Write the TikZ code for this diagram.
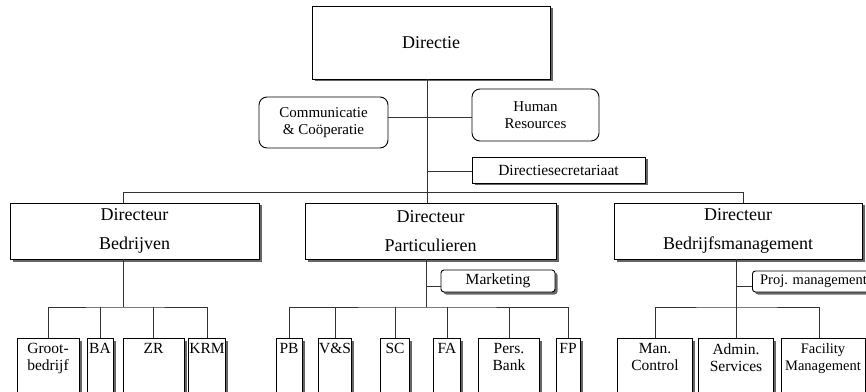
\documentclass[tikz,border=0pt]{standalone}
\usepackage{fontspec}
\setmainfont{Liberation Serif}
\usetikzlibrary{positioning, shadows}

\tikzset{
  orgbox/.style={draw, fill=white, line width=0.9pt, align=center, inner sep=1pt,
                 drop shadow={shadow xshift=2.5pt, shadow yshift=-2.5pt, fill=black!60, opacity=1}},
  staffbox/.style={draw, fill=white, rounded corners=8pt, line width=0.9pt, align=center,
                   font=\fontsize{15}{17}\selectfont},
  dirbox/.style={orgbox, minimum height=56pt, font=\fontsize{18}{29}\selectfont},
  kid/.style={orgbox, anchor=north, inner xsep=1pt, inner ysep=5pt, text depth=60pt,
              font=\fontsize{15.5}{17}\selectfont},
  link/.style={draw=black!80, line width=1pt},
}

\begin{document}
\begin{tikzpicture}[x=1pt, y=1pt]
\useasboundingbox (0,0) rectangle (866,391);
\clip (0,0) rectangle (866,391);

% Top
\node[orgbox, minimum width=238pt, minimum height=73pt, font=\fontsize{18}{20}\selectfont]
      (directie) at (431,348.5) {Directie};
\node[staffbox, minimum width=129pt, minimum height=51pt] (comm) at (323.5,268.5) {Communicatie\\\& Coöperatie};
\node[staffbox, minimum width=127pt, minimum height=52pt] (hr) at (535.5,276) {Human\\Resources};
\node[orgbox, minimum width=173pt, minimum height=26pt, font=\fontsize{15.5}{17}\selectfont]
      (secr) at (558.5,221) {Directiesecretariaat};

% Directeuren
\node[dirbox, minimum width=249pt] (dirbedr) at (134.5,160) {Directeur\\Bedrijven};
\node[dirbox, minimum width=251pt] (dirpart) at (430.5,160) {Directeur\\Particulieren};
\node[dirbox, minimum width=248pt] (dirbm) at (738,160) {Directeur\\Bedrijfsmanagement};

\node[orgbox, rounded corners=3pt, minimum width=114pt, minimum height=22pt,
      font=\fontsize{15.5}{17}\selectfont] (mkt) at (498,110) {Marketing};
\node[orgbox, rounded corners=3pt, minimum width=122pt, minimum height=21pt, anchor=west,
      font=\fontsize{14.5}{16}\selectfont] (projm) at (752,109.5) {Proj. management};

% Afdelingen
\node[kid, minimum width=62pt] (groot) at (48,53) {Groot-\\bedrijf};
\node[kid, minimum width=26pt] (ba) at (100,53) {BA};
\node[kid, minimum width=61pt] (zr) at (153.5,53) {ZR};
\node[kid, minimum width=30pt] (krm) at (207,53) {KRM};

\node[kid, minimum width=26pt] (pb) at (289,53) {PB};
\node[kid, minimum width=29pt] (vs) at (335,53) {V\&S};
\node[kid, minimum width=29pt] (sc) at (395,53) {SC};
\node[kid, minimum width=27pt] (fa) at (447,53) {FA};
\node[kid, minimum width=61pt] (pers) at (509,53) {Pers.\\Bank};
\node[kid, minimum width=24pt] (fp) at (568,53) {FP};

\node[kid, minimum width=75pt] (man) at (655,53) {Man.\\Control};
\node[kid, minimum width=75pt] (admin) at (736,53) {Admin.\\Services};
\node[kid, minimum width=84pt, font=\fontsize{14.5}{17}\selectfont] (fac) at (823,53) {Facility\\Management};

% Lijnen
\coordinate (trunk) at (427,198);
\coordinate (busL) at (123,198);
\coordinate (busR) at (743,198);
\coordinate (hrjoin) at (427,273);
\coordinate (secjoin) at (427,219);
\coordinate (subA) at (123,84);
\coordinate (subB) at (426,84);
\coordinate (subC) at (736,84);
\coordinate (mktjoin) at (426,105);
\coordinate (pmjoin) at (736,105);

\draw[link] (directie.south -| trunk) -- (dirpart.north -| trunk);
\draw[link] (comm.east |- hrjoin) -- (hr.west |- hrjoin);
\draw[link] (secjoin) -- (secjoin -| secr.west);
\draw[link] (busL |- dirbedr.north) |- (busR) -- (busR |- dirbm.north);

\draw[link] (dirbedr.south -| subA) -- (subA);
\draw[link] (dirpart.south -| subB) -- (subB);
\draw[link] (mktjoin) -- (mktjoin -| mkt.west);
\draw[link] (dirbm.south -| subC) -- (subC);
\draw[link] (pmjoin) -- (pmjoin -| projm.west);

\draw[link] (groot.north) |- (subA) -| (krm.north);
\foreach \k in {ba,zr} \draw[link] (\k.north) -- (\k.north |- subA);
\draw[link] (pb.north) |- (subB) -| (fp.north);
\foreach \k in {vs,sc,fa,pers} \draw[link] (\k.north) -- (\k.north |- subB);
\draw[link] (man.north) |- (subC) -| ([xshift=-4pt]fac.north);
\draw[link] (admin.north) -- (subC);
\end{tikzpicture}
\end{document}
